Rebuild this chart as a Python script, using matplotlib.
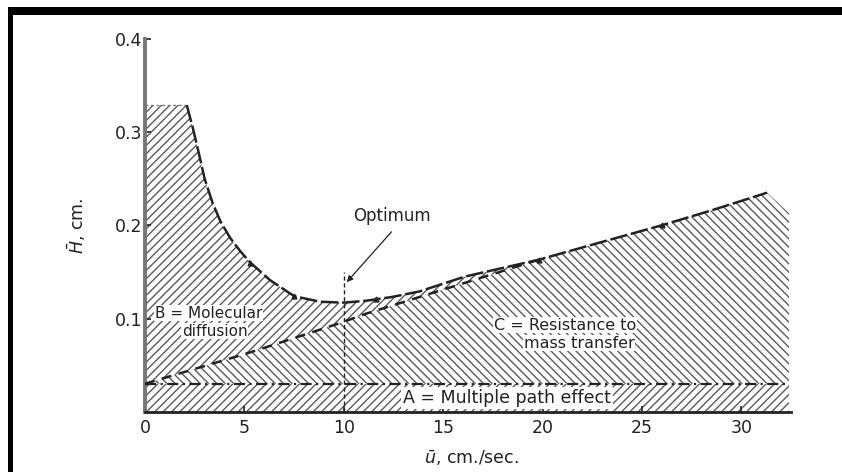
import matplotlib
matplotlib.use("Agg")
import matplotlib.pyplot as plt
from matplotlib.patches import Rectangle

# total plate height curve
u_total = [0, 2.1, 2.4, 2.7, 3.0, 3.4, 3.8, 4.3, 4.8, 5.3, 6.3, 7.5, 8.8, 10.0, 11.1, 12.4,
           13.8, 16.1, 19.8, 22.8, 26.0, 28.5, 31.3]
h_total = [0.329, 0.329, 0.305, 0.278, 0.250, 0.224, 0.204, 0.186, 0.172, 0.160, 0.141, 0.124,
           0.118, 0.117, 0.119, 0.123, 0.129, 0.145, 0.163, 0.181, 0.200, 0.216, 0.235]

# A + C*u dashed line
u_c = [0, 5.2, 9.8, 11.1, 15.0, 19.8]
h_c = [0.030, 0.063, 0.095, 0.105, 0.131, 0.163]

# A term (multiple path)
h_a = 0.03
u_end = 32.4
h_end = 0.213

# little marks on the curve
u_marks = [5.3, 7.5, 11.6, 19.8, 26.0]
h_marks = [0.160, 0.124, 0.121, 0.163, 0.200]

u_opt = 10.0
h_opt_top = 0.15

x_ticks = [0, 5, 10, 15, 20, 25, 30]
y_ticks = [0.1, 0.2, 0.3, 0.4]
y_ticklabels = ["0.1", "0.2", "0.3", "0.4"]

plt.rcParams.update({
    "font.family": "DejaVu Sans",
    "hatch.linewidth": 1.0,
})

INK = "#222222"
HATCH = "#5a5a5a"

fig = plt.figure(figsize=(8.42, 4.72), dpi=100)
ax = fig.add_axes([145 / 842, (472 - 411.7) / 472, (791 - 145) / 842, (411.7 - 38.9) / 472])

# hatched regions
ax.fill([0, u_end, u_end, 0], [0, 0, h_a, h_a], facecolor="none", edgecolor=HATCH,
        lw=0, hatch="////", zorder=1)

n_b = u_total.index(19.8)
c_top_u = u_c + u_total[n_b + 1:] + [u_end]
c_top_h = h_c + h_total[n_b + 1:] + [h_end]
ax.fill([u_end, 0] + c_top_u, [h_a, h_a] + c_top_h, facecolor="none", edgecolor=HATCH,
        lw=0, hatch="\\\\\\\\", zorder=1)

b_u = u_total[:n_b + 1] + u_c[::-1]
b_h = h_total[:n_b + 1] + h_c[::-1]
ax.fill(b_u, b_h, facecolor="none", edgecolor=HATCH, lw=0, hatch="////", zorder=1)

# curves
ax.plot(u_total[:2], h_total[:2], color="#777777", lw=1.0, ls=(0, (2, 2)), zorder=3)
ax.plot(u_total[1:], h_total[1:], color=INK, lw=1.8, ls=(0, (7, 1.5)), zorder=3)
ax.plot(u_c, h_c, color=INK, lw=1.8, ls=(0, (4, 3)), zorder=3)
ax.plot([0, u_end], [h_a, h_a], color=INK, lw=1.6, ls=(0, (5, 2, 1, 2)), zorder=3)
ax.plot(u_marks, h_marks, ls="none", marker="^", ms=3.5, color=INK, zorder=4)
ax.plot([u_opt, u_opt], [0, h_opt_top], color=INK, lw=1.0, ls=(0, (3, 2)), zorder=3)

# labels inside the plot
box = dict(facecolor="white", edgecolor="none", pad=0.3)
ax.text(0.5, 0.1055, "B = Molecular", fontsize=11, color=INK, ha="left", va="center",
        bbox=box, zorder=5)
ax.text(1.85, 0.0865, "diffusion", fontsize=11, color=INK, ha="left", va="center",
        bbox=box, zorder=5)
ax.text(17.55, 0.093, "C = Resistance to", fontsize=11.5, color=INK, ha="left", va="center",
        bbox=box, zorder=5)
ax.text(19.05, 0.0735, "mass transfer", fontsize=11.5, color=INK, ha="left", va="center",
        bbox=box, zorder=5)
ax.text(13.0, 0.0145, "A = Multiple path effect", fontsize=12.5, color=INK, ha="left",
        va="center", bbox=dict(facecolor="white", edgecolor="none", pad=1.5), zorder=5)
ax.text(12.4, 0.210, "Optimum", fontsize=12, color=INK, ha="center", va="center", zorder=5)
ax.annotate("", xy=(10.15, 0.139), xytext=(12.4, 0.193),
            arrowprops=dict(arrowstyle="-|>", color=INK, lw=0.9, mutation_scale=9,
                            shrinkA=0, shrinkB=0),
            zorder=5)

# axes styling
ax.set_xlim(0, 32.5)
ax.set_ylim(0, 0.4)
ax.spines["top"].set_visible(False)
ax.spines["right"].set_visible(False)
ax.spines["left"].set_color("#777777")
ax.spines["left"].set_linewidth(2.8)
ax.spines["bottom"].set_color(INK)
ax.spines["bottom"].set_linewidth(2.0)
ax.set_xticks(x_ticks)
ax.set_yticks(y_ticks)
ax.set_yticklabels(y_ticklabels)
ax.tick_params(direction="in", length=4, width=1.2, colors=INK, labelsize=12.5, pad=2)
ax.tick_params(axis="x", pad=5)
ax.set_facecolor("none")

fig.text(77 / 842, 1 - 226 / 472, r"$\bar{H}$, cm.", rotation=90, fontsize=12.5,
         color=INK, ha="center", va="center")
fig.text(471 / 842, 1 - 458 / 472, r"$\bar{u}$, cm./sec.", fontsize=12.5,
         color=INK, ha="center", va="center")

# scanned page frame
fig.add_artist(Rectangle((8 / 842, (472 - 15) / 472), 1 - 8 / 842, 8 / 472,
                         transform=fig.transFigure, color="black", lw=0))
fig.add_artist(Rectangle((8 / 842, 0), 5 / 842, (472 - 7) / 472,
                         transform=fig.transFigure, color="black", lw=0))

fig.savefig("out.png", dpi=100)
